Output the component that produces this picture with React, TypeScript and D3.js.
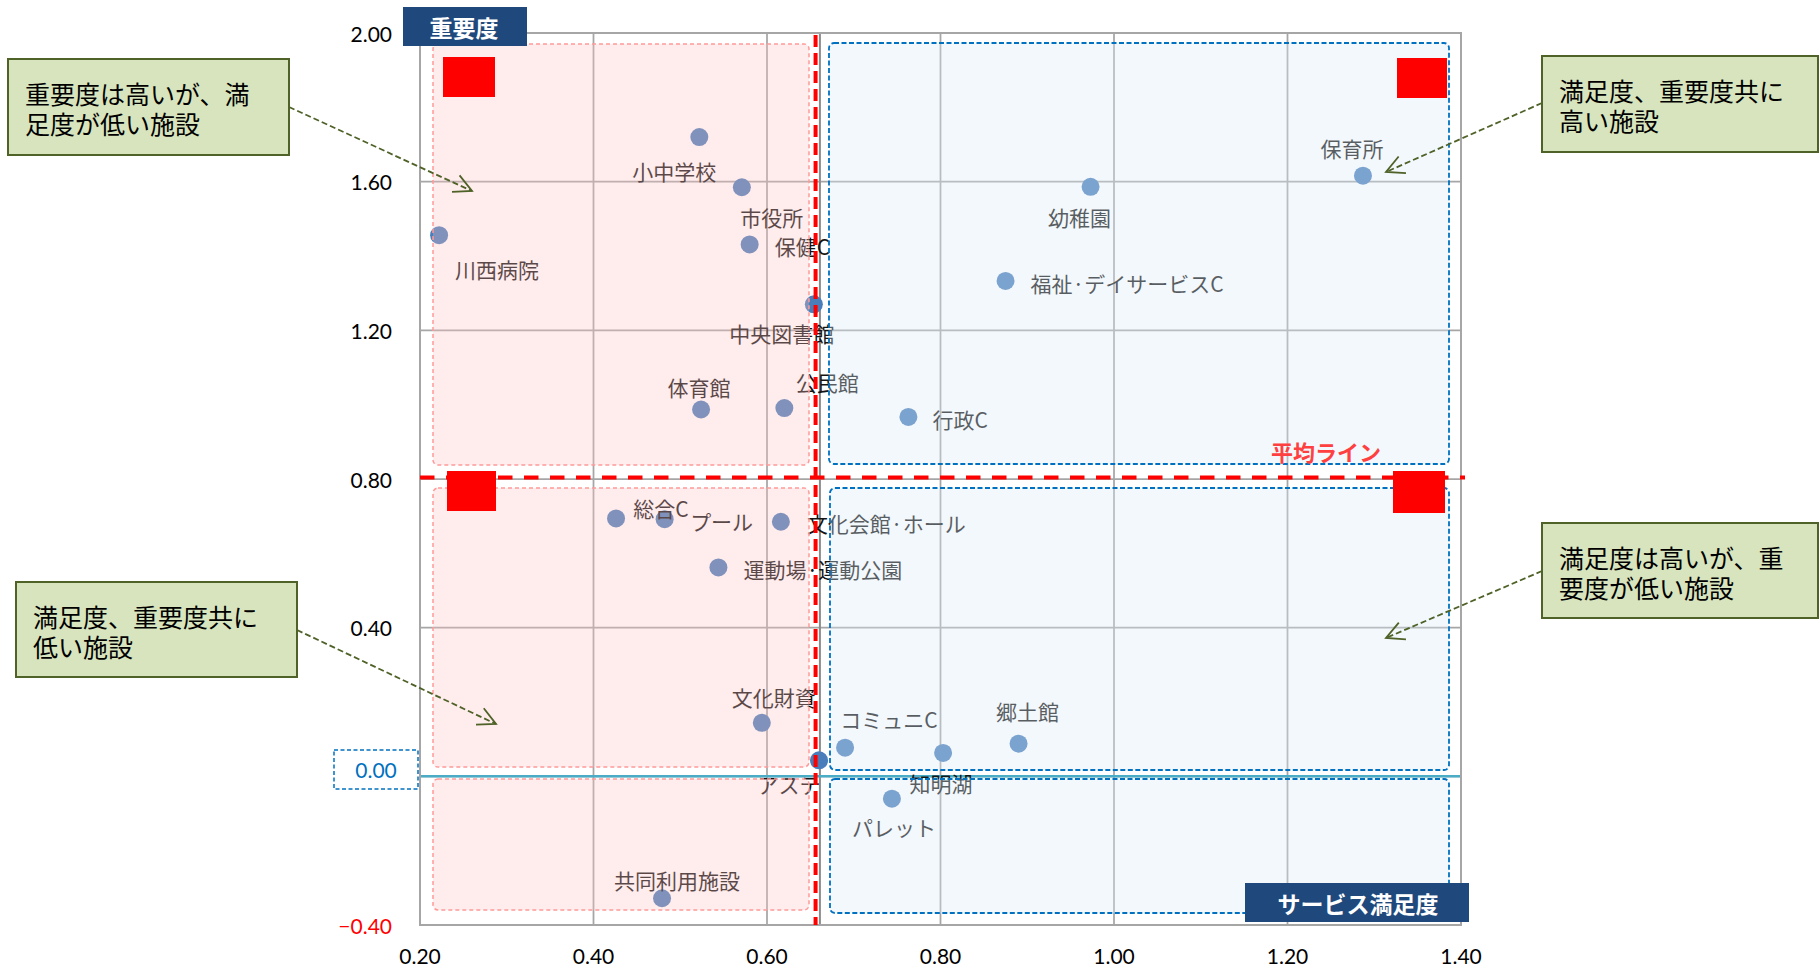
import React from "react";
import * as d3 from "d3";

// Facility survey: service satisfaction (x) vs. importance (y)
const FACILITIES = [
  "小中学校", "市役所", "保健C", "川西病院", "幼稚園", "保育所", "福祉·デイサービスC",
  "中央図書館", "体育館", "公民館", "行政C", "総合C", "プール", "文化会館·ホール",
  "運動場·運動公園", "文化財資", "アステ", "コミュニC", "知明湖", "郷土館", "パレット", "共同利用施設",
];
const SATISFACTION = [
  0.522, 0.571, 0.58, 0.222, 0.973, 1.287, 0.875,
  0.654, 0.524, 0.62, 0.763, 0.426, 0.482, 0.616,
  0.544, 0.594, 0.66, 0.69, 0.803, 0.89, 0.744, 0.479,
];
const IMPORTANCE = [
  1.72, 1.585, 1.431, 1.456, 1.586, 1.616, 1.333,
  1.27, 0.987, 0.991, 0.967, 0.694, 0.692, 0.685,
  0.562, 0.144, 0.043, 0.077, 0.063, 0.088, -0.06, -0.328,
];

const X_TICKS = [0.2, 0.4, 0.6, 0.8, 1.0, 1.2, 1.4];
const Y_TICKS = [-0.4, 0.0, 0.4, 0.8, 1.2, 1.6, 2.0];

const MEAN_SATISFACTION = 0.656;
const MEAN_IMPORTANCE = 0.804;
const Y_AXIS_CROSS = 0.661;

// label placement relative to each point: [dx, dy, anchor]
const LABEL_PLACEMENT: [number, number, string][] = [
  [-25, 34, "middle"], [30, 30, "middle"], [25, 1.5, "start"], [16, 34, "start"],
  [-11, 30, "middle"], [-11, -28, "middle"], [25, 2.5, "start"], [-32, 29, "middle"],
  [-2, -22, "middle"], [43, -26, "middle"], [24, 2.5, "start"], [45, -10, "middle"],
  [57, 2, "middle"], [26, 1.5, "start"], [25, 2, "start"], [12, -26, "middle"],
  [-30, 24, "middle"], [44, -29, "middle"], [-2, 30, "middle"], [9, -33, "middle"],
  [2, 28, "middle"], [15, -18, "middle"],
];

const NUM_FONT = "Lato, 'Noto Sans', sans-serif";
const JP_FONT = "'Noto Sans CJK JP', 'Noto Sans', sans-serif";

const PLOT = { left: 420, right: 1461, top: 33, bottom: 925 };

type Box = { x0: number; y0: number; x1: number; y1: number; kind: "pink" | "blue" };
const QUADRANT_BOXES: Box[] = [
  { x0: 433, y0: 44, x1: 809, y1: 465, kind: "pink" },
  { x0: 433, y0: 488, x1: 809, y1: 767, kind: "pink" },
  { x0: 433, y0: 779, x1: 809, y1: 910, kind: "pink" },
  { x0: 829, y0: 43, x1: 1449, y1: 464, kind: "blue" },
  { x0: 830, y0: 488, x1: 1449, y1: 770, kind: "blue" },
  { x0: 830, y0: 779, x1: 1449, y1: 913, kind: "blue" },
];

const RED_MARKERS = [
  { x: 443, y: 57, w: 52, h: 40 },
  { x: 1397, y: 58, w: 50, h: 40 },
  { x: 447, y: 471, w: 49, h: 40 },
  { x: 1393, y: 471, w: 52, h: 42 },
];

type Note = { x: number; y: number; w: number; h: number; lines: string[]; from: [number, number]; to: [number, number] };
const NOTES: Note[] = [
  { x: 8, y: 59, w: 281, h: 96, lines: ["重要度は高いが、満", "足度が低い施設"], from: [289, 107], to: [472, 191] },
  { x: 16, y: 582, w: 281, h: 95, lines: ["満足度、重要度共に", "低い施設"], from: [297, 630], to: [496, 724] },
  { x: 1542, y: 56, w: 276, h: 96, lines: ["満足度、重要度共に", "高い施設"], from: [1542, 103], to: [1386, 172] },
  { x: 1542, y: 523, w: 276, h: 95, lines: ["満足度は高いが、重", "要度が低い施設"], from: [1542, 571], to: [1386, 638] },
];

function arrowHead(from: [number, number], to: [number, number], len = 20, ang = 0.47) {
  const a = Math.atan2(to[1] - from[1], to[0] - from[0]);
  const p1 = [to[0] - len * Math.cos(a - ang), to[1] - len * Math.sin(a - ang)];
  const p2 = [to[0] - len * Math.cos(a + ang), to[1] - len * Math.sin(a + ang)];
  return `M${p1[0]},${p1[1]}L${to[0]},${to[1]}L${p2[0]},${p2[1]}`;
}

export default function App() {
  const x = d3.scaleLinear().domain([0.2, 1.4]).range([PLOT.left, PLOT.right]);
  const y = d3.scaleLinear().domain([-0.4, 2.0]).range([PLOT.bottom, PLOT.top]);
  const fmt = d3.format(".2f");
  const grid = "#a6a6a6";

  return (
    <svg width={1820} height={968} style={{ position: "absolute", left: 0, top: 0, background: "#fff" }}>
      {/* grid */}
      <g>
        {X_TICKS.map((t) => (
          <line key={"gx" + t} x1={x(t)} x2={x(t)} y1={PLOT.top} y2={PLOT.bottom} stroke={grid} strokeWidth={1.75} />
        ))}
        {Y_TICKS.map((t) => (
          <line key={"gy" + t} x1={PLOT.left} x2={PLOT.right} y1={y(t)} y2={y(t)} stroke={grid} strokeWidth={1.75} />
        ))}
        <line x1={x(Y_AXIS_CROSS)} x2={x(Y_AXIS_CROSS)} y1={PLOT.top} y2={PLOT.bottom} stroke="#8c8c8c" strokeWidth={2} />
        <line x1={PLOT.left} x2={PLOT.right} y1={y(0)} y2={y(0)} stroke="#4bacc6" strokeWidth={2.5} />
      </g>

      {/* points and labels */}
      <g>
        {FACILITIES.map((name, i) => (
          <circle key={"p" + name} cx={x(SATISFACTION[i])} cy={y(IMPORTANCE[i])} r={9} fill="#4a7ebb" />
        ))}
        {FACILITIES.map((name, i) => {
          const [dx, dy, anchor] = LABEL_PLACEMENT[i];
          return (
            <text
              key={"l" + name}
              x={x(SATISFACTION[i]) + dx}
              y={y(IMPORTANCE[i]) + dy}
              textAnchor={anchor as any}
              dominantBaseline="central"
              fontFamily={JP_FONT}
              fontSize={21}
              fill="#141414"
            >
              {name}
            </text>
          );
        })}
      </g>

      {/* quadrant overlays */}
      <g>
        {QUADRANT_BOXES.map((b, i) => (
          <rect
            key={"qb" + i}
            x={b.x0}
            y={b.y0}
            width={b.x1 - b.x0}
            height={b.y1 - b.y0}
            rx={5}
            fill={b.kind === "pink" ? "rgba(255,192,192,0.3)" : "rgba(219,234,246,0.34)"}
            stroke={b.kind === "pink" ? "#ff9999" : "#0070c0"}
            strokeWidth={b.kind === "pink" ? 1.5 : 1.8}
            strokeDasharray={b.kind === "pink" ? "4 3" : "5 2.5"}
          />
        ))}
      </g>

      {/* plot frame */}
      <rect x={PLOT.left} y={PLOT.top} width={PLOT.right - PLOT.left} height={PLOT.bottom - PLOT.top} fill="none" stroke={grid} strokeWidth={2} />

      {/* average lines */}
      <line x1={x(MEAN_SATISFACTION)} x2={x(MEAN_SATISFACTION)} y1={PLOT.top + 2} y2={PLOT.bottom} stroke="#ff0000" strokeWidth={4} strokeDasharray="12 6" />
      <line x1={PLOT.left} x2={PLOT.right + 4} y1={y(MEAN_IMPORTANCE)} y2={y(MEAN_IMPORTANCE)} stroke="#ff0000" strokeWidth={4} strokeDasharray="14.5 11.5" />
      <text x={1326} y={451} textAnchor="middle" dominantBaseline="central" fontFamily={JP_FONT} fontWeight="bold" fontSize={22} fill="#ff4040">
        平均ライン
      </text>

      {RED_MARKERS.map((m, i) => (
        <rect key={"rm" + i} x={m.x} y={m.y} width={m.w} height={m.h} fill="#ff0000" />
      ))}

      {/* y tick labels */}
      {Y_TICKS.filter((t) => t !== 0).map((t) => (
        <text key={"yt" + t} x={392} y={y(t)} textAnchor="end" dominantBaseline="central" fontFamily={NUM_FONT} fontSize={21} fill={t < 0 ? "#ff0000" : "#000"}>
          {fmt(t)}
        </text>
      ))}
      <rect x={334} y={750} width={84} height={39} fill="#fff" stroke="#0070c0" strokeWidth={1.5} strokeDasharray="4 2.5" />
      <text x={376} y={y(0) - 7} textAnchor="middle" dominantBaseline="central" fontFamily={NUM_FONT} fontSize={21} fill="#0070c0">
        {fmt(0)}
      </text>

      {/* x tick labels */}
      {X_TICKS.map((t) => (
        <text key={"xt" + t} x={x(t)} y={955} textAnchor="middle" dominantBaseline="central" fontFamily={NUM_FONT} fontSize={21} fill="#000">
          {fmt(t)}
        </text>
      ))}

      {/* axis titles */}
      <rect x={403} y={7} width={124} height={39} fill="#1f497d" />
      <text x={464} y={27} textAnchor="middle" dominantBaseline="central" fontFamily={JP_FONT} fontWeight="bold" fontSize={23} fill="#fff">
        重要度
      </text>
      <rect x={1245} y={883} width={224} height={39} fill="#1f497d" />
      <text x={1358} y={903} textAnchor="middle" dominantBaseline="central" fontFamily={JP_FONT} fontWeight="bold" fontSize={23} fill="#fff">
        サービス満足度
      </text>

      {/* callouts */}
      {NOTES.map((n, i) => (
        <g key={"n" + i}>
          <line x1={n.from[0]} y1={n.from[1]} x2={n.to[0]} y2={n.to[1]} stroke="#4f6228" strokeWidth={1.8} strokeDasharray="6 3" />
          <path d={arrowHead(n.from, n.to)} fill="none" stroke="#4f6228" strokeWidth={1.8} />
          <rect x={n.x} y={n.y} width={n.w} height={n.h} fill="#d7e4bd" stroke="#4f6228" strokeWidth={2} />
          <text x={n.x + 17} y={n.y + 34} dominantBaseline="central" fontFamily={JP_FONT} fontSize={25} fill="#000">
            {n.lines.map((ln, j) => (
              <tspan key={j} x={n.x + 17} dy={j === 0 ? 0 : 30}>
                {ln}
              </tspan>
            ))}
          </text>
        </g>
      ))}
    </svg>
  );
}
